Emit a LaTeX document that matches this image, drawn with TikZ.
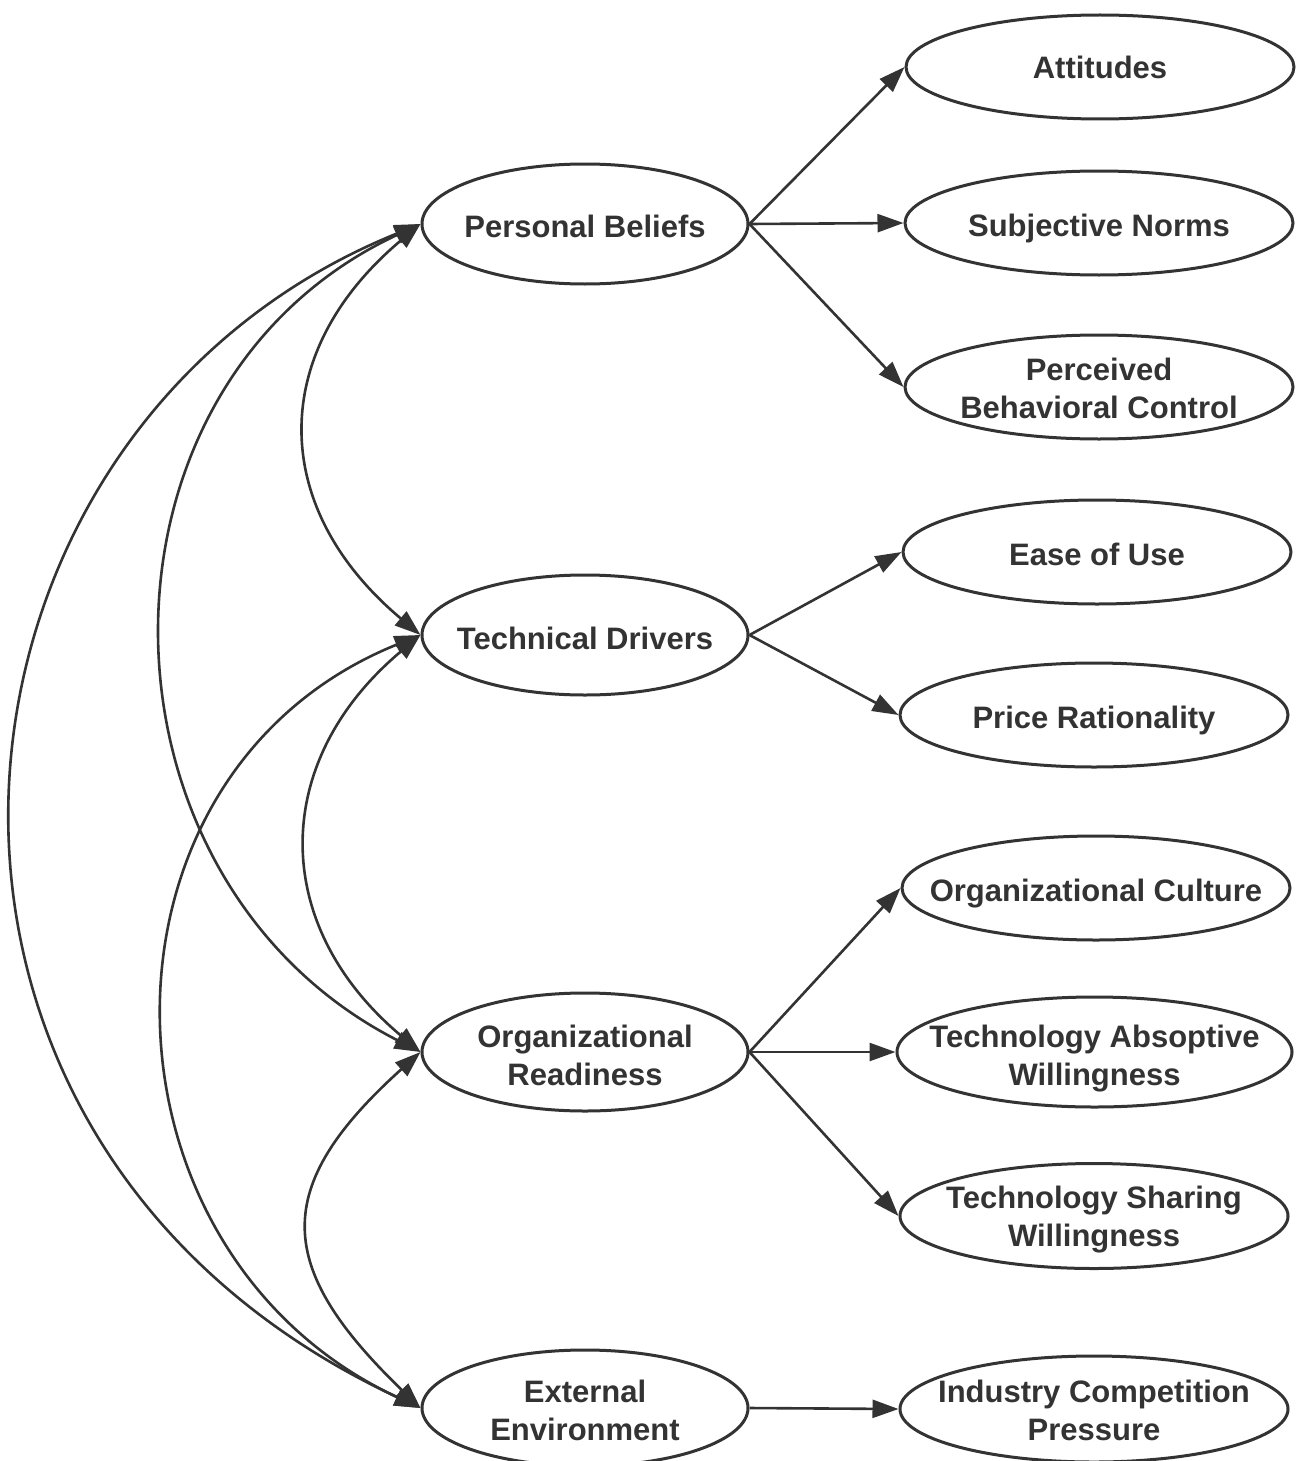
\documentclass[tikz,border=0pt]{standalone}
\usepackage{fontspec}
\setmainfont{Liberation Sans}
\usetikzlibrary{shapes.geometric,arrows.meta}
\definecolor{ink}{HTML}{333333}
\begin{document}
\begin{tikzpicture}[x=0.5pt,y=-0.5pt,
  ell/.style={ellipse, draw=ink, line width=1.5pt, inner sep=0pt},
  lft/.style={ell, minimum width=163pt, minimum height=60pt},
  rgt/.style={ell, minimum width=194pt, minimum height=52pt},
  txt/.style={font=\fontsize{15.5}{19}\selectfont\bfseries, text=ink, align=center, inner sep=0pt},
  conn/.style={draw=ink, line width=1.3pt, -{Triangle[length=13pt,width=9pt]}},
  cov/.style={draw=ink, line width=1.3pt, {Triangle[length=13pt,width=9pt]}-{Triangle[length=13pt,width=9pt]}}]
\fill[white] (0,0) rectangle (1299,1461);
\useasboundingbox (0,0) rectangle (1299,1461);

% left (latent) nodes
\node[lft, label={[txt,yshift=-1pt]center:Personal Beliefs}] (pb) at (585,224) {};
\node[lft, label={[txt,yshift=-1.5pt]center:Technical Drivers}] (td) at (585,635) {};
\node[lft, minimum height=59pt, label={[txt,yshift=-1.5pt]center:{Organizational\\Readiness}}] (or) at (585,1052) {};
\node[lft, minimum height=58pt, label={[txt,yshift=-1pt]center:{External\\Environment}}] (ee) at (585,1408) {};

% right (indicator) nodes
\node[rgt, label={[txt]center:Attitudes}] (att) at (1100,67) {};
\node[rgt, label={[txt,yshift=-2.5pt]center:Subjective Norms}] (sn) at (1099,223) {};
\node[rgt, label={[txt,yshift=-0.5pt]center:{Perceived\\Behavioral Control}}] (pbc) at (1099,387) {};
\node[rgt, label={[txt,yshift=-1pt]center:Ease of Use}] (eou) at (1097,552) {};
\node[rgt, label={[txt,yshift=-2.5pt]center:Price Rationality}] (pr) at (1094,715) {};
\node[rgt, label={[txt,yshift=-3pt]center:Organizational Culture}] (oc) at (1096,888) {};
\node[rgt, minimum width=197.5pt, minimum height=55pt, label={[txt,yshift=-3.5pt]center:{Technology Absoptive\\Willingness}}] (taw) at (1094.5,1052) {};
\node[rgt, minimum height=52.5pt, label={[txt,yshift=-2pt]center:{Technology Sharing\\Willingness}}] (tsw) at (1094,1216) {};
\node[rgt, minimum height=53pt, label={[txt,yshift=-0.5pt]center:{Industry Competition\\Pressure}}] (icp) at (1094,1409) {};

% paths to indicators
\draw[conn] (pb.east) -- (att.west);
\draw[conn] (pb.east) -- (sn.west);
\draw[conn] (pb.east) -- (pbc.west);
\draw[conn] (td.east) -- (eou.west);
\draw[conn] (td.east) -- (pr.west);
\draw[conn] (or.east) -- (oc.west);
\draw[conn] (or.east) -- (taw.west);
\draw[conn] (or.east) -- (tsw.west);
\draw[conn] (ee.east) -- (icp.west);

% covariances
\draw[cov] (pb.west) to[out=220,in=140,looseness=1.24] (td.west);
\draw[cov] (td.west) to[out=220,in=140,looseness=1.21] (or.west);
\draw[cov] (or.west) to[out=222,in=136,looseness=1.46] (ee.west);
\draw[cov] (pb.west) to[out=205,in=153,looseness=1.18] (or.west);
\draw[cov] (td.west) to[out=202,in=155,looseness=1.23] (ee.west);
\draw[cov] (pb.west) to[out=202,in=155,out looseness=1.18,in looseness=1.38] (ee.west);
\end{tikzpicture}
\end{document}
